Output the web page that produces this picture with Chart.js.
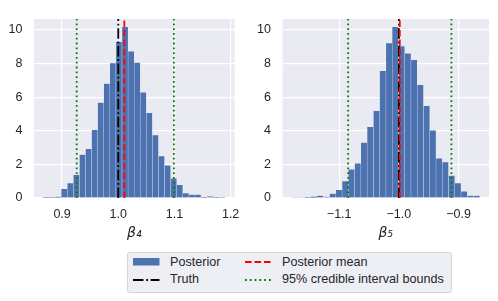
<!DOCTYPE html>
<html>
<head>
<meta charset="utf-8">
<title>Posterior histograms</title>
<script src="https://cdn.jsdelivr.net/npm/chart.js"></script>
<style>
  body { margin: 0; background: #fff; font-family: "Liberation Sans", Arial, sans-serif; }
  #wrap { position: relative; width: 498px; height: 301px; overflow: hidden; }
  canvas { position: absolute; top: 0; }
  #legend { position: absolute; left: 127px; top: 252px; width: 325px; height: 41px; box-sizing: border-box;
            background: #eeeef5; border: 1px solid #d4d4d8; border-radius: 3px; }
  .lg { position: absolute; height: 17px; line-height: 17px; font-size: 12.6px; color: #262626; white-space: nowrap; }
  .lg svg { position: absolute; top: 3.5px; }
</style>
</head>
<body>
<div id="wrap">
  <canvas id="left" width="249" height="250" style="left:0"></canvas>
  <canvas id="right" width="249" height="250" style="left:249px"></canvas>
  <div id="legend"></div>
</div>
<script>
// beta_4 posterior histogram (density), 30 bins
const b4BinStart = 0.866;
const b4BinWidth = 0.010817;
const b4Heights = [0.05, 0.05, 0.08, 0.55, 0.89, 1.38, 2.58, 2.92, 4.05, 5.68,
                   6.81, 8.03, 9.29, 10.19, 8.72, 8.05, 6.28, 5.06, 3.75, 2.49,
                   1.94, 1.17, 0.78, 0.29, 0.2, 0.2, 0.05, 0.1, 0.05, 0.04];
const b4Truth = 1.0;
const b4Mean = 1.0108;
const b4Ci = [0.926, 1.099];
const b4XTicks = [0.9, 1.0, 1.1, 1.2];
const b4XLabels = ['0.9', '1.0', '1.1', '1.2'];

// beta_5 posterior histogram (density), 30 bins
const b5BinStart = -1.179;
const b5BinWidth = 0.010486;
const b5Heights = [0.03, 0.03, 0.05, 0.09, 0.15, 0.07, 0.27, 0.48, 1.0, 1.7,
                   2.07, 3.29, 4.23, 5.19, 7.56, 9.21, 10.19, 9.04, 8.61, 8.22,
                   6.74, 5.48, 4.03, 2.36, 2.13, 1.34, 0.89, 0.4, 0.14, 0.14];
const b5Truth = -1.0;
const b5Mean = -0.9985;
const b5Ci = [-1.085, -0.912];
const b5XTicks = [-1.1, -1.0, -0.9];
const b5XLabels = ['\u22121.1', '\u22121.0', '\u22120.9'];

const yTicks = [0, 2, 4, 6, 8, 10];
const yLabels = ['0', '2', '4', '6', '8', '10'];

const FONT = '"Liberation Sans", Arial, sans-serif';
const TEXT = '#262626';
const BAR = '#4c72b0';
const LW = 1.8;
const DASH_TRUTH = [10.5, 2.7, 1.8, 2.7];
const DASH_MEAN = [6.6, 2.9];
const DASH_CI = [1.8, 3.0];

const axesBg = {
  id: 'axesBg',
  beforeDraw(chart) {
    const a = chart.chartArea, ctx = chart.ctx;
    ctx.save();
    ctx.fillStyle = '#eaeaf2';
    ctx.fillRect(a.left, a.top, a.right - a.left, a.bottom - a.top);
    ctx.restore();
  }
};

function makePanel(id, o) {
  const centers = o.heights.map((_, i) => o.binStart + (i + 0.5) * o.binWidth);
  const vline = (x, color, dash, order, label) => ({
    type: 'line', label,
    data: [{ x: x, y: 0 }, { x: x, y: o.yMax }],
    borderColor: color, borderWidth: LW, borderDash: dash,
    pointRadius: 0, order: order
  });
  return new Chart(document.getElementById(id), {
    type: 'bar',
    data: {
      datasets: [
        {
          type: 'bar', label: 'Posterior',
          data: centers.map((x, i) => ({ x: x, y: o.heights[i] })),
          backgroundColor: BAR, borderColor: 'rgba(234,234,242,0.2)', borderWidth: 0.5,
          barPercentage: 1, categoryPercentage: 1, grouped: false, order: 4
        },
        vline(o.truth, '#000000', DASH_TRUTH, 3, 'Truth'),
        vline(o.mean, '#ff0000', DASH_MEAN, 2, 'Posterior mean'),
        vline(o.ci[0], '#008000', DASH_CI, 1, '95% credible interval bounds'),
        vline(o.ci[1], '#008000', DASH_CI, 1, '95% credible interval bounds')
      ]
    },
    options: {
      responsive: false,
      animation: false,
      layout: { padding: { top: 9, right: o.padRight, left: 0, bottom: 0 } },
      plugins: { legend: { display: false }, tooltip: { enabled: false } },
      scales: {
        x: {
          type: 'linear', min: o.xMin, max: o.xMax, offset: false,
          afterBuildTicks: s => { s.ticks = o.xTicks.map(v => ({ value: v })); },
          afterFit: s => { s.height = 52; },
          ticks: { autoSkip: false, maxRotation: 0, padding: 9.5, color: TEXT,
                   font: { family: FONT, size: 12.5 }, callback: (v, i) => o.xLabels[i] },
          grid: { color: '#ffffff', lineWidth: 1.2, drawTicks: false, offset: false },
          border: { display: false },
          title: { display: true, text: o.title, color: TEXT,
                   font: { family: '"DejaVu Sans"', size: 14, style: 'italic' },
                   padding: { top: 0, bottom: 8.6 } }
        },
        y: {
          min: 0, max: o.yMax,
          afterBuildTicks: s => { s.ticks = yTicks.map(v => ({ value: v })); },
          afterFit: s => { s.width = o.yWidth; },
          ticks: { padding: 11.5, color: TEXT, font: { family: FONT, size: 12.5 },
                   callback: (v, i) => yLabels[i] },
          grid: { color: '#ffffff', lineWidth: 1.2, drawTicks: false },
          border: { display: false }
        }
      }
    },
    plugins: [axesBg]
  });
}

makePanel('left', {
  binStart: b4BinStart, binWidth: b4BinWidth, heights: b4Heights,
  truth: b4Truth, mean: b4Mean, ci: b4Ci, xTicks: b4XTicks, xLabels: b4XLabels,
  xMin: 0.850, xMax: 1.207, yMax: 10.65, title: 'β₄', yWidth: 34, padRight: 9
});
makePanel('right', {
  binStart: b5BinStart, binWidth: b5BinWidth, heights: b5Heights,
  truth: b5Truth, mean: b5Mean, ci: b5Ci, xTicks: b5XTicks, xLabels: b5XLabels,
  xMin: -1.195, xMax: -0.849, yMax: 10.65, title: 'β₅', yWidth: 33.5, padRight: 9
});

// legend (two columns, like matplotlib ncol=2)
const legendItems = [
  { label: 'Posterior', kind: 'patch', color: BAR, col: 0, row: 0 },
  { label: 'Truth', kind: 'line', color: '#000000', dash: DASH_TRUTH, col: 0, row: 1 },
  { label: 'Posterior mean', kind: 'line', color: '#ff0000', dash: DASH_MEAN, col: 1, row: 0 },
  { label: '95% credible interval bounds', kind: 'line', color: '#008000', dash: DASH_CI, col: 1, row: 1 }
];
const legend = document.getElementById('legend');
const colX = [5, 117];
const rowY = [0.5, 18];
legendItems.forEach(it => {
  const d = document.createElement('div');
  d.className = 'lg';
  d.style.left = colX[it.col] + 'px';
  d.style.top = rowY[it.row] + 'px';
  const mark = it.kind === 'patch'
    ? `<rect x="0" y="1" width="26.5" height="7.5" fill="${it.color}"/>`
    : `<line x1="0" y1="5" x2="26.5" y2="5" stroke="${it.color}" stroke-width="${LW}" stroke-dasharray="${it.dash.join(' ')}"/>`;
  d.innerHTML = `<svg width="27" height="10">${mark}</svg><span style="margin-left:37px">${it.label}</span>`;
  legend.appendChild(d);
});
</script>
</body>
</html>
